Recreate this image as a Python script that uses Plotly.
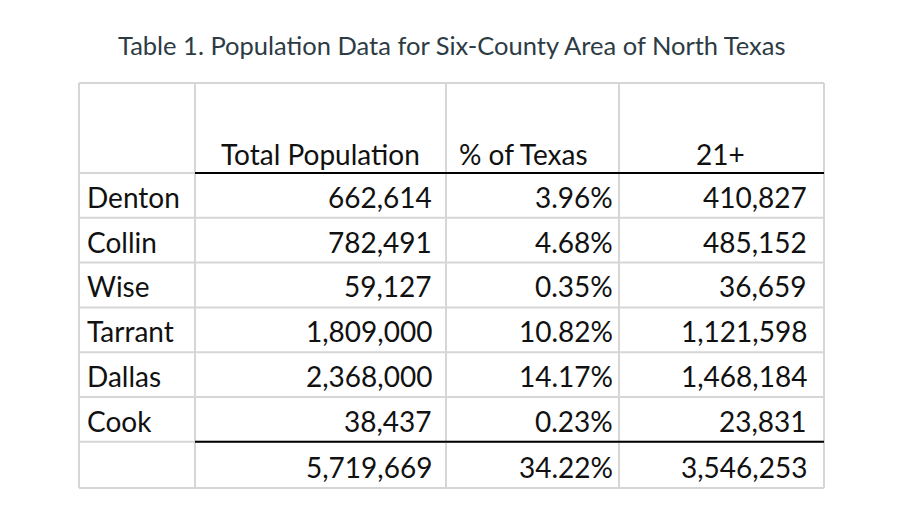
import plotly.graph_objects as go

title = "Table 1. Population Data for Six-County Area of North Texas"
headers = ["", "Total Population", "% of Texas", "21+"]
counties = ["Denton", "Collin", "Wise", "Tarrant", "Dallas", "Cook"]
total_population = [662614, 782491, 59127, 1809000, 2368000, 38437]
pct_of_texas = [3.96, 4.68, 0.35, 10.82, 14.17, 0.23]
age_21_plus = [410827, 485152, 36659, 1121598, 1468184, 23831]
totals = [5719669, 34.22, 3546253]

# layout geometry (pixel-like axis units)
W, H = 918, 508
OFF = 8  # page body margin
col_edges = [79, 195, 446, 619, 824]
header_top, header_bottom = 83, 173
row_h = 44.8
n_rows = len(counties) + 1
row_edges = [header_top, header_bottom] + [header_bottom + row_h * (i + 1) for i in range(n_rows)]
row_edges[-1] = 488

grid_color = "#d6d6d6"
text_color = "#111111"
font_family = "Lato, 'Open Sans', sans-serif"
fs = 28

fig = go.Figure()
fig.add_trace(go.Scatter(x=[0, W], y=[0, H], mode="markers", marker=dict(opacity=0), hoverinfo="skip", showlegend=False))

shapes = []
for x in col_edges:
    shapes.append(dict(type="line", xref="x", yref="y", x0=x, x1=x, y0=row_edges[0], y1=row_edges[-1],
                       line=dict(color=grid_color, width=2)))
for y in row_edges:
    shapes.append(dict(type="line", xref="x", yref="y", x0=col_edges[0], x1=col_edges[-1], y0=y, y1=y,
                       line=dict(color=grid_color, width=2)))
for y in [row_edges[1], row_edges[-2]]:
    shapes.append(dict(type="line", xref="x", yref="y", x0=col_edges[1], x1=col_edges[-1], y0=y, y1=y,
                       line=dict(color="#000000", width=2)))

annotations = []
annotations.append(dict(x=452, y=45, xref="x", yref="y", text=title, showarrow=False,
                        font=dict(family=font_family, size=25.5, color="#2d3b45"), xanchor="center", yanchor="middle"))

header_x = [None, 320, 523, 720]
for i in range(1, 4):
    annotations.append(dict(x=header_x[i], y=header_bottom - 19, xref="x", yref="y", text=headers[i], showarrow=False,
                            font=dict(family=font_family, size=fs, color=text_color), xanchor="center", yanchor="middle"))

right_x = [434, 615, 809]

def add_row(r, label, vals):
    yc = row_edges[r + 2] - 21
    if label:
        annotations.append(dict(x=85, y=yc, xref="x", yref="y", text=label, showarrow=False,
                                font=dict(family=font_family, size=fs, color=text_color), xanchor="left", yanchor="middle"))
    for j, v in enumerate(vals):
        annotations.append(dict(x=right_x[j], y=yc, xref="x", yref="y", text=v, showarrow=False,
                                font=dict(family=font_family, size=fs, color=text_color), xanchor="right", yanchor="middle"))

for r, c in enumerate(counties):
    add_row(r, c, [f"{total_population[r]:,}", f"{pct_of_texas[r]:.2f}%", f"{age_21_plus[r]:,}"])
add_row(len(counties), "", [f"{totals[0]:,}", f"{totals[1]:.2f}%", f"{totals[2]:,}"])

fig.update_layout(
    width=W, height=H,
    margin=dict(l=0, r=0, t=0, b=0),
    paper_bgcolor="white", plot_bgcolor="white",
    xaxis=dict(range=[OFF, W + OFF], visible=False, fixedrange=True),
    yaxis=dict(range=[H + OFF, OFF], visible=False, fixedrange=True),
    shapes=shapes, annotations=annotations,
    showlegend=False,
)

fig.write_html("out.html")
